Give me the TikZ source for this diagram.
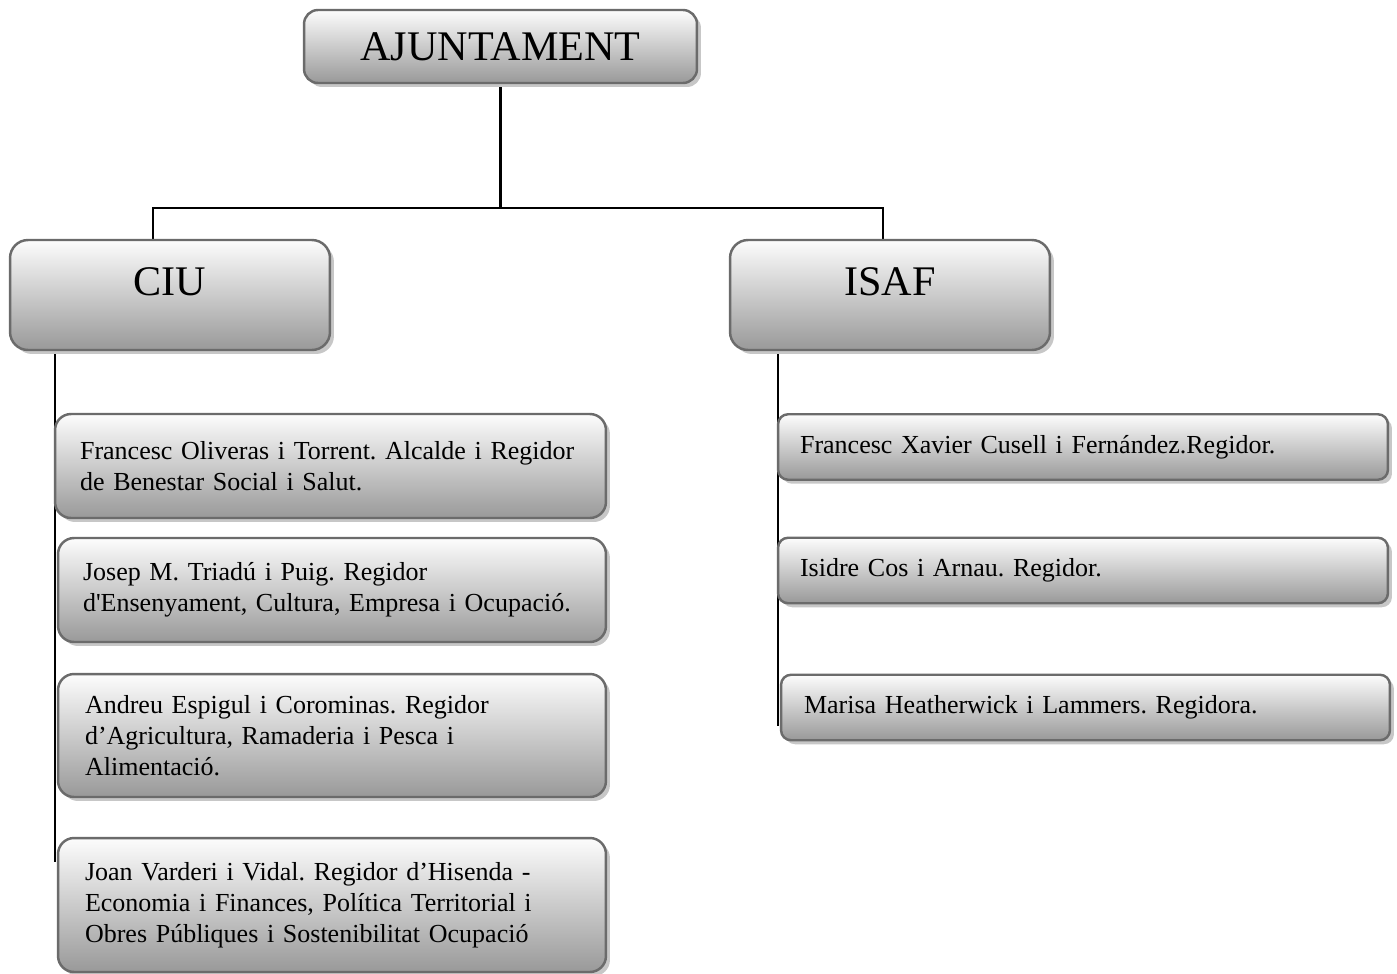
\documentclass[tikz,border=0pt]{standalone}
\usepackage{fontspec}
\setmainfont{Liberation Serif}
\usetikzlibrary{shadows,backgrounds}
\definecolor{rim}{HTML}{6B6B6B}
\frenchspacing
\hyphenpenalty=10000
\tikzset{
  box/.style={draw=rim, line width=1.4pt, top color=black!1, bottom color=black!40,
    drop shadow={shadow xshift=0.08cm, shadow yshift=-0.08cm, fill=black!22, opacity=1}},
  head/.style={box, rounded corners=0.28cm, font=\fontsize{24}{28}\selectfont,
    minimum width=7.86cm, minimum height=1.46cm, inner sep=0pt},
  party/.style={box, rounded corners=0.36cm, font=\fontsize{24}{28}\selectfont,
    minimum width=6.4cm, minimum height=2.2cm, inner sep=0pt, text depth=0.52cm},
  pers/.style={box, rounded corners=0.32cm, font=\fontsize{14.8}{17.6}\selectfont,
    align=left, inner xsep=0.5cm, inner ysep=0pt},
  persb/.style={pers, rounded corners=0.2cm, minimum height=1.31cm},
  link/.style={line width=1.3pt}
}
\begin{document}
\begin{tikzpicture}[x=0.02cm, y=-0.02cm]
    \useasboundingbox (0,0) rectangle (1397,974);

    \node[head] (A) at (500.5,46.5) {AJUNTAMENT};
    \node[party] (C) at (170,295) {CIU};
    \node[party] (I) at (890,295) {ISAF};

    \node[pers, text width=10.02cm, minimum height=2.08cm] (C1) at (330.5,466)
      {Francesc Oliveras i Torrent. Alcalde i Regidor\\de Benestar Social i Salut.};
    \node[pers, text width=9.96cm, minimum height=2.08cm] (C2) at (332,590)
      {Josep M. Triadú i Puig. Regidor\\d\textquotesingle Ensenyament, Cultura, Empresa i Ocupació.};
    \node[pers, inner xsep=0.54cm, text width=9.88cm, minimum height=2.46cm] (C3) at (332,735.5)
      {Andreu Espigul i Corominas. Regidor\\d’Agricultura, Ramaderia i Pesca i\\Alimentació.};
    \node[pers, inner xsep=0.54cm, text width=9.88cm, minimum height=2.68cm] (C4) at (332,905)
      {Joan Varderi i Vidal. Regidor d’Hisenda -\\Economia i Finances, Política Territorial i\\Obres Públiques i Sostenibilitat Ocupació};

    \node[persb, inner xsep=0.44cm, text width=11.32cm] (I1) at (1083,447)
      {Francesc Xavier Cusell i Fernández.Regidor.};
    \node[persb, inner xsep=0.44cm, text width=11.32cm] (I2) at (1083,570.5)
      {Isidre Cos i Arnau. Regidor.};
    \node[persb, inner xsep=0.46cm, text width=11.26cm] (I3) at (1085.5,707.5)
      {Marisa Heatherwick i Lammers. Regidora.};

    \coordinate (BL) at (153,208);
    \coordinate (BR) at (883,208);
    \coordinate (CL) at (55,862);
    \coordinate (IL) at (778,726);

    \begin{pgfonlayer}{background}
    \draw[link] (A.south) -- (A.south |- BL);
    \draw[link] (C.north -| BL) -- (BL) -- (BR) -- (I.north -| BR);
    \draw[link] (C.south -| CL) -- (CL);
    \draw[link] (I.south -| IL) -- (IL);
    \end{pgfonlayer}
\end{tikzpicture}
\end{document}
